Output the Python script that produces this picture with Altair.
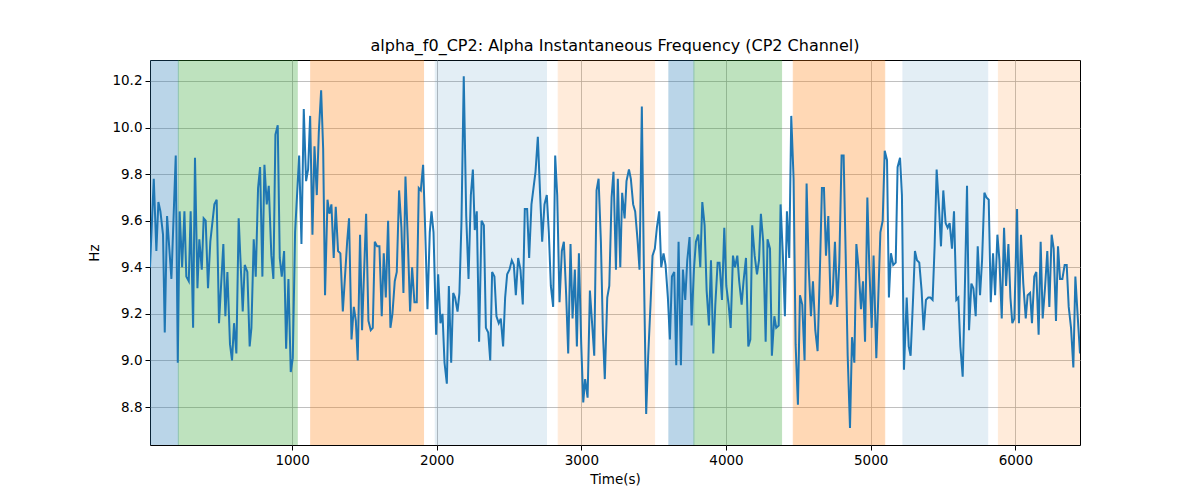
import altair as alt
import pandas as pd

times = [18, 44, 62, 76, 90, 108, 120, 136, 166, 196, 210, 223, 240, 256, 269, 286, 299, 316, 329, 346,
         359, 376, 389, 403, 419, 435, 463, 479, 495, 525, 539, 553, 571, 585, 599, 615, 631, 659, 673, 691,
         707, 719, 735, 749, 765, 779, 795, 809, 825, 839, 857, 871, 885, 901, 915, 929, 945, 959, 975, 991,
         1005, 1021, 1049, 1065, 1081,
         1097, 1111, 1125, 1141, 1155, 1171, 1185, 1201, 1215, 1228, 1245, 1258, 1272, 1288, 1302, 1318, 1334, 1351, 1364, 1381,
         1394, 1411, 1427, 1441, 1454, 1470, 1484, 1512, 1528, 1544, 1558, 1572, 1588, 1604, 1620, 1634, 1648, 1664, 1680, 1694,
         1710, 1724, 1740, 1756, 1770, 1784, 1800, 1816, 1830, 1846, 1862, 1876, 1890, 1906, 1920, 1936, 1952, 1964, 1978, 1996,
         2010, 2026, 2040, 2054, 2070, 2084, 2100, 2114,
         2127, 2144, 2157, 2171, 2187, 2204, 2220, 2236, 2250, 2263, 2277, 2293, 2310, 2326, 2340, 2356, 2370, 2383, 2399, 2413,
         2429, 2443, 2459, 2473, 2487, 2503, 2519, 2533, 2547, 2563, 2579, 2595, 2609, 2625, 2639, 2655, 2669, 2683, 2699, 2715,
         2729, 2745, 2761, 2775, 2789, 2805, 2819, 2833, 2849, 2865, 2879, 2895, 2909, 2925, 2939, 2955, 2969, 2983, 2999, 3013,
         3026, 3043, 3059, 3073, 3089, 3105, 3119, 3135, 3149, 3162,
         3179, 3193, 3209, 3222, 3239, 3252, 3269, 3282, 3299, 3312, 3329, 3342, 3358, 3372, 3388, 3402, 3418, 3432, 3448, 3462,
         3478, 3492, 3508, 3522, 3538, 3552, 3568, 3582, 3598, 3612, 3626, 3642, 3656, 3672, 3688, 3702, 3718, 3732, 3748, 3762,
         3778, 3792, 3808, 3822, 3836, 3852, 3866, 3882, 3896, 3912, 3926, 3942, 3955, 3972, 3988, 4002, 4018, 4032, 4048, 4062,
         4078, 4091, 4108, 4121, 4138, 4154, 4168, 4181,
         4198, 4214, 4228, 4241, 4257, 4274, 4287, 4304, 4317, 4334, 4347, 4364, 4377, 4393, 4407, 4421, 4437, 4451, 4467, 4481,
         4497, 4511, 4527, 4543, 4557, 4571, 4587, 4601, 4617, 4633, 4649, 4663, 4677, 4691, 4707, 4723, 4737, 4753, 4769, 4783,
         4799, 4813, 4827, 4841, 4857, 4871, 4887, 4901, 4917, 4933, 4947, 4961, 4977, 4991, 5007, 5020, 5039, 5053, 5067, 5083,
         5097, 5113, 5126, 5140, 5156, 5173, 5186, 5203, 5216, 5230,
         5249, 5263, 5276, 5292, 5306, 5320, 5336, 5352, 5366, 5382, 5398, 5412, 5428, 5442, 5456, 5472, 5486, 5502, 5518, 5532,
         5546, 5562, 5576, 5592, 5606, 5620, 5636, 5650, 5666, 5680, 5696, 5710, 5726, 5740, 5756, 5770, 5786, 5800, 5816, 5830,
         5846, 5860, 5876, 5890, 5906, 5922, 5936, 5952, 5966, 5979, 5993, 6012, 6025, 6039, 6055, 6072, 6085, 6102, 6115, 6131,
         6145, 6161, 6175, 6189, 6205, 6221, 6235, 6251, 6265, 6281, 6295, 6309, 6325, 6341, 6355, 6369, 6385, 6401, 6415, 6431,
         6447]

values = [9.40, 9.78, 9.47, 9.68, 9.64, 9.54, 9.12, 9.62, 9.35, 9.88, 8.99, 9.64, 9.40, 9.64, 9.36, 9.34, 9.64, 9.14, 9.87, 9.31,
          9.52, 9.39, 9.61, 9.60, 9.31, 9.51, 9.67, 9.69, 9.16, 9.50, 9.19, 9.38, 9.07, 9.00, 9.16, 9.03, 9.61, 9.21, 9.41, 9.38,
          9.06, 9.14, 9.52, 9.36, 9.74, 9.83, 9.36, 9.84, 9.67, 9.75, 9.45, 9.35, 9.97, 10.01, 9.44, 9.36, 9.47, 9.05, 9.35, 8.95,
          9.01, 9.55, 9.88, 9.50, 10.08,
          9.77, 9.82, 10.05, 9.54, 9.92, 9.71, 9.98, 10.16, 9.91, 9.28, 9.69, 9.63, 9.67, 9.44, 9.66, 9.47, 9.46, 9.21, 9.34, 9.51,
          9.61, 9.09, 9.23, 9.17, 9.00, 9.54, 9.13, 9.63, 9.17, 9.13, 9.14, 9.51, 9.49, 9.49, 9.19, 9.46, 9.27, 9.60, 9.14, 9.20,
          9.34, 9.38, 9.73, 9.57, 9.29, 9.79, 9.52, 9.21, 9.40, 9.25, 9.25, 9.74, 9.73, 9.84, 9.57, 9.22, 9.55, 9.64, 9.55, 9.11,
          9.37, 9.16, 9.20, 8.99, 8.90, 9.32, 8.99, 9.29,
          9.27, 9.21, 9.29, 9.59, 10.22, 9.62, 9.35, 9.71, 9.82, 9.56, 9.64, 9.08, 9.60, 9.58, 9.14, 9.12, 9.00, 9.38, 9.36, 9.19,
          9.16, 9.18, 9.06, 9.27, 9.37, 9.39, 9.43, 9.41, 9.28, 9.44, 9.39, 9.24, 9.65, 9.65, 9.44, 9.67, 9.74, 9.81, 9.96, 9.71,
          9.51, 9.67, 9.71, 9.55, 9.32, 9.23, 9.88, 9.71, 9.25, 9.47, 9.51, 9.28, 9.03, 9.50, 9.18, 9.39, 9.06, 9.46, 9.07, 8.82,
          8.92, 8.84, 9.30, 9.17, 9.02, 9.73, 9.78, 9.51, 9.12, 8.92,
          9.27, 9.32, 9.70, 9.81, 9.39, 9.78, 9.40, 9.72, 9.61, 9.77, 9.82, 9.78, 9.67, 9.64, 9.52, 9.39, 10.09, 9.40, 8.77, 9.02,
          9.24, 9.45, 9.48, 9.57, 9.64, 9.40, 9.46, 9.41, 9.27, 9.09, 9.36, 9.38, 8.98, 9.51, 8.98, 9.39, 9.26, 9.43, 9.53, 9.15,
          9.39, 9.51, 9.54, 9.40, 9.68, 9.58, 9.30, 9.15, 9.43, 9.03, 9.24, 9.42, 9.42, 9.26, 9.57, 9.32, 9.24, 9.14, 9.45, 9.40,
          9.45, 9.34, 9.24, 9.34, 9.44, 9.06, 9.09, 9.58,
          9.45, 9.37, 9.43, 9.63, 9.51, 9.08, 9.52, 9.48, 9.02, 9.19, 9.14, 9.15, 9.67, 9.45, 9.19, 9.64, 9.44, 10.05, 9.78, 9.07,
          8.81, 9.28, 9.24, 9.00, 9.76, 9.41, 9.19, 9.34, 9.13, 9.04, 9.39, 9.74, 9.74, 9.45, 9.62, 9.24, 9.28, 9.51, 9.23, 9.42,
          9.88, 9.88, 9.46, 9.02, 8.71, 9.10, 8.99, 9.50, 9.39, 9.22, 9.34, 9.08, 9.70, 9.39, 9.14, 9.45, 9.01, 9.28, 9.55, 9.60,
          9.90, 9.86, 9.27, 9.46, 9.41, 9.42, 9.83, 9.87, 9.71, 8.96,
          9.27, 9.06, 9.02, 9.25, 9.47, 9.43, 9.42, 9.30, 9.13, 9.26, 9.27, 9.27, 9.26, 9.49, 9.82, 9.66, 9.49, 9.73, 9.59, 9.57,
          9.59, 9.48, 9.64, 9.26, 9.27, 9.06, 8.93, 9.28, 9.75, 9.13, 9.33, 9.31, 9.19, 9.49, 9.28, 9.43, 9.72, 9.70, 9.69, 9.25,
          9.46, 9.28, 9.54, 9.43, 9.18, 9.57, 9.32, 9.50, 9.27, 9.16, 9.18, 9.65, 9.16, 9.54, 9.33, 9.18, 9.28, 9.29, 9.16, 9.36,
          9.38, 9.11, 9.51, 9.18, 9.31, 9.47, 9.23, 9.54, 9.48, 9.17, 9.49, 9.35, 9.35, 9.41, 9.41, 9.23, 9.14, 8.97, 9.36, 9.19,
          9.03]

span_start = [18, 214, 1129, 1990, 2840, 3605, 3778, 4465, 5223, 5883]
span_end = [214, 1036, 1909, 2759, 3506, 3778, 4384, 5097, 5809, 6447]
span_color = ["#1f77b4", "#2ca02c", "#ff7f0e", "#1f77b4", "#ff7f0e",
              "#1f77b4", "#2ca02c", "#ff7f0e", "#1f77b4", "#ff7f0e"]
span_alpha = [0.3, 0.3, 0.3, 0.12, 0.15, 0.3, 0.3, 0.3, 0.12, 0.15]

y_ticks = [8.8, 9.0, 9.2, 9.4, 9.6, 9.8, 10.0, 10.2]
x_ticks = [1000, 2000, 3000, 4000, 5000, 6000]

line_df = pd.DataFrame({"t": times, "v": values})
span_df = pd.DataFrame({"s": span_start, "e": span_end, "c": span_color, "a": span_alpha})

FONT = "DejaVu Sans"
xscale = alt.Scale(domain=[18, 6447], nice=False, zero=False)
yscale = alt.Scale(domain=[8.637, 10.29], nice=False, zero=False)

xaxis = alt.Axis(values=x_ticks, format="d", title="Time(s)", grid=True, gridColor="#b0b0b0",
                 gridWidth=0.8, domain=False, tickColor="black", tickSize=5, labelFont=FONT,
                 labelFontSize=13.5, labelColor="black", titleFont=FONT, titleFontSize=13.5,
                 titleFontWeight="normal", titleColor="black", labelPadding=3, titlePadding=6)
yaxis = alt.Axis(values=y_ticks, format=".1f", title="Hz", grid=True, gridColor="#b0b0b0",
                 gridWidth=0.8, domain=False, tickColor="black", tickSize=5, labelFont=FONT,
                 labelFontSize=13.5, labelColor="black", titleFont=FONT, titleFontSize=13.5,
                 titleFontWeight="normal", titleColor="black", labelPadding=3, titlePadding=10)

spans = alt.Chart(span_df).mark_rect(clip=True, strokeWidth=1).encode(
    x=alt.X("s:Q", scale=xscale, axis=xaxis),
    x2="e:Q",
    y=alt.value(0),
    y2=alt.value(385),
    color=alt.Color("c:N", scale=None),
    stroke=alt.Stroke("c:N", scale=None),
    opacity=alt.Opacity("a:Q", scale=None),
)

line = alt.Chart(line_df).mark_line(color="#1f77b4", strokeWidth=2, clip=True).encode(
    x=alt.X("t:Q", scale=xscale, axis=xaxis),
    y=alt.Y("v:Q", scale=yscale, axis=yaxis),
)

chart = alt.layer(spans, line).properties(
    width=930,
    height=385,
    title=alt.TitleParams("alpha_f0_CP2: Alpha Instantaneous Frequency (CP2 Channel)",
                          font=FONT, fontSize=16, fontWeight="normal", color="black", offset=6),
    autosize=alt.AutoSizeParams(type="none"),
    padding={"left": 142, "top": 52, "right": 112, "bottom": 47},
).configure_view(stroke="black", strokeWidth=1)

chart.save("out.html", embed_options={"renderer": "svg", "actions": False})
